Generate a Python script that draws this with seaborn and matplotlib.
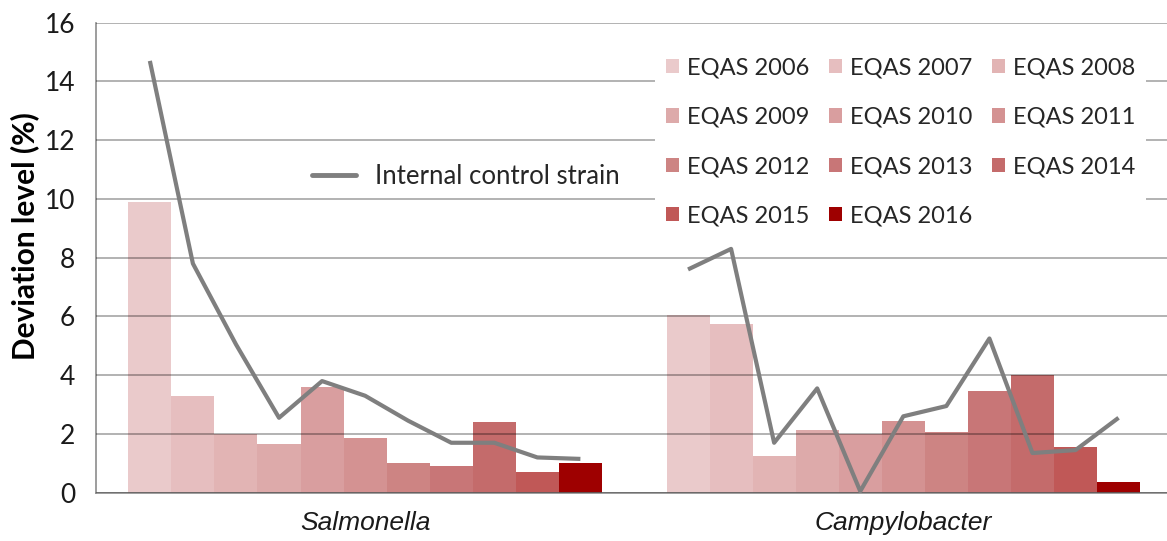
import matplotlib
matplotlib.use("Agg")
import matplotlib.pyplot as plt
import pandas as pd
import seaborn as sns
from matplotlib.lines import Line2D

# ------------------------------------------------------------------ #
# Data
# ------------------------------------------------------------------ #
species = ["Salmonella", "Campylobacter"]
years = ["EQAS 2006", "EQAS 2007", "EQAS 2008", "EQAS 2009", "EQAS 2010", "EQAS 2011",
         "EQAS 2012", "EQAS 2013", "EQAS 2014", "EQAS 2015", "EQAS 2016"]
salmonella_dev = [9.9, 3.3, 2.0, 1.65, 3.6, 1.85, 1.0, 0.9, 2.4, 0.7, 1.0]
campylobacter_dev = [6.05, 5.75, 1.25, 2.15, 2.0, 2.45, 2.05, 3.45, 4.0, 1.55, 0.35]
salmonella_ctrl = [14.7, 7.8, 5.05, 2.55, 3.8, 3.3, 2.45, 1.7, 1.7, 1.2, 1.15]
campylobacter_ctrl = [7.6, 8.3, 1.7, 3.55, 0.05, 2.6, 2.95, 5.25, 1.35, 1.45, 2.55]
yticks = [0, 2, 4, 6, 8, 10, 12, 14, 16]

bar_colors = ["#eacacb", "#e6bebf", "#e2b4b4", "#ddaaaa", "#d99e9f", "#d49292",
              "#cd8483", "#c87677", "#c46b6b", "#c05857", "#9e0000"]

sns.set_theme(style="white")
plt.rcParams["font.family"] = ["Lato", "DejaVu Sans"]

df = pd.DataFrame({
    "species": [s for s in species for _ in years],
    "year": years * len(species),
    "value": salmonella_dev + campylobacter_dev,
})

fig, ax = plt.subplots(figsize=(11.67, 5.41), dpi=100)
fig.subplots_adjust(left=0.0823, right=1.0, bottom=0.0893, top=0.958)

sns.barplot(data=df, x="species", y="value", hue="year", hue_order=years, order=species,
            palette=bar_colors, width=0.88, saturation=1, errorbar=None,
            linewidth=0, edgecolor="none", ax=ax)
bar_handles, bar_labels = ax.get_legend_handles_labels()
if ax.get_legend() is not None:
    ax.get_legend().remove()

# control strain line sits on the bar centres of each group
ctrl = [salmonella_ctrl, campylobacter_ctrl]
for i, vals in enumerate(ctrl):
    xs = [c[i].get_x() + c[i].get_width() / 2 for c in ax.containers]
    ax.plot(xs, vals, color="#7f7f7f", lw=3, zorder=4, solid_capstyle="butt")

ax.set_xlim(-0.5, 1.49)
ax.set_ylim(0, 16)
ax.set_yticks(yticks)
ax.set_axisbelow(False)
ax.yaxis.grid(True, color="black", alpha=0.38, lw=1.1)
ax.xaxis.grid(False)
for side in ["top", "right"]:
    ax.spines[side].set_visible(False)
for side in ["left", "bottom"]:
    ax.spines[side].set_color("#8c8c8c")
    ax.spines[side].set_linewidth(1.2)

ax.tick_params(axis="y", length=6, width=1.2, color="#8c8c8c", pad=9,
               labelsize=19, labelcolor="#1a1a1a")
ax.tick_params(axis="x", length=0, pad=13, labelsize=19, labelcolor="#1a1a1a")
for lbl in ax.get_xticklabels():
    lbl.set_fontstyle("italic")
    lbl.set_family("Liberation Sans")
ax.set_xlabel("")
ax.set_ylabel("Deviation level (%)", fontsize=21.5, fontweight="bold", color="#000000")
ax.yaxis.set_label_coords(-0.053, 0.545)

# legends
line_leg = ax.legend([Line2D([0], [0], color="#7f7f7f", lw=3.5)], ["Internal control strain"],
                     loc="center left", bbox_to_anchor=(312 / 1167, 1 - 176 / 541),
                     bbox_transform=fig.transFigure, frameon=False, fontsize=18.5,
                     handlelength=1.7, handletextpad=0.75, borderpad=0, borderaxespad=0)
ax.add_artist(line_leg)

order = [0, 3, 6, 9, 1, 4, 7, 10, 2, 5, 8]
leg = ax.legend([bar_handles[k] for k in order], [bar_labels[k] for k in order],
                ncol=3, loc="upper left", bbox_to_anchor=(655 / 1167, 1 - 47 / 541),
                bbox_transform=fig.transFigure, fontsize=17, frameon=True,
                facecolor="white", edgecolor="none", framealpha=1, fancybox=False,
                handlelength=0.55, handleheight=0.55, handletextpad=0.35,
                columnspacing=0.82, labelspacing=1.2, borderpad=0.45, borderaxespad=0)
leg.set_zorder(5)

fig.savefig("out.png", dpi=100)
